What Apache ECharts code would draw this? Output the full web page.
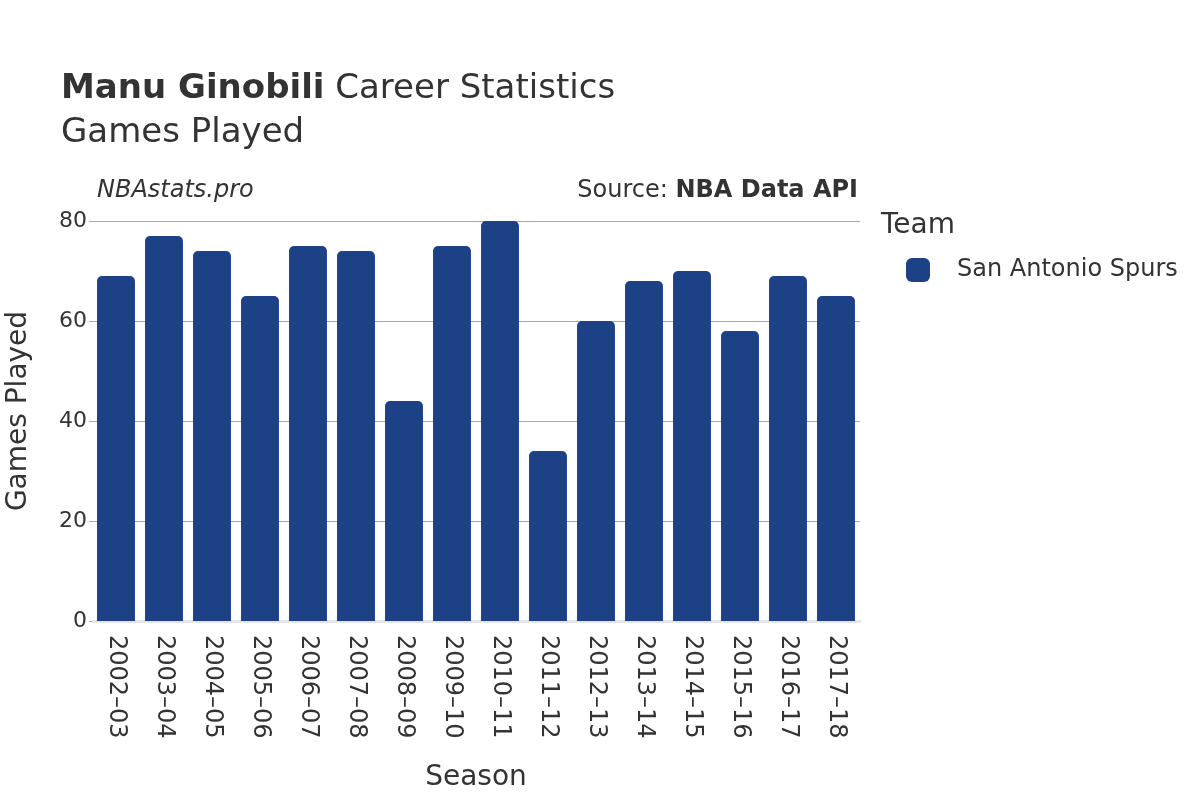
<!DOCTYPE html>
<html>
<head>
<meta charset="utf-8">
<script src="https://cdn.jsdelivr.net/npm/echarts@6/dist/echarts.min.js"></script>
<style>
  html, body { margin: 0; padding: 0; background: #fff; }
  #chart { width: 1200px; height: 800px; }
</style>
</head>
<body>
<div id="chart"></div>
<script>
// seasons on the x axis
const seasons = ['2002–03', '2003–04', '2004–05', '2005–06', '2006–07', '2007–08', '2008–09', '2009–10',
  '2010–11', '2011–12', '2012–13', '2013–14', '2014–15', '2015–16', '2016–17', '2017–18']
// games played per season
const gamesPlayed = [69, 77, 74, 65, 75, 74, 44, 75, 80, 34, 60, 68, 70, 58, 69, 65]
const teamName = 'San Antonio Spurs'
const yTicks = [0, 20, 40, 60, 80]

const font = 'DejaVu Sans'
const textColor = '#333'
const barColor = '#1c4187'

const chart = echarts.init(document.getElementById('chart'))

chart.setOption({
  animation: false,
  textStyle: { fontFamily: font },
  grid: { left: 92, right: 340, top: 221, bottom: 179, containLabel: false, outerBoundsMode: 'none' },
  graphic: [
    {
      type: 'text', left: 61, top: 72,
      style: {
        text: '{b|Manu Ginobili} Career Statistics',
        rich: { b: { fontWeight: 'bold', fontSize: 34, fontFamily: font, fill: textColor } },
        fontSize: 34, fontFamily: font, fill: textColor
      }
    },
    {
      type: 'text', left: 61, top: 116,
      style: { text: 'Games Played', fontSize: 34, fontFamily: font, fill: textColor }
    },
    {
      type: 'text', left: 97, top: 179,
      style: { text: 'NBAstats.pro', fontSize: 24, fontStyle: 'italic', fontFamily: font, fill: textColor }
    },
    {
      type: 'text', right: 342, top: 179,
      style: {
        text: 'Source: {b|NBA Data API}',
        rich: { b: { fontWeight: 'bold', fontSize: 24, fontFamily: font, fill: textColor } },
        fontSize: 24, fontFamily: font, fill: textColor
      }
    },
    {
      type: 'text', left: 881, top: 212,
      style: { text: 'Team', fontSize: 28, fontFamily: font, fill: textColor }
    }
  ],
  legend: {
    left: 901, top: 253,
    orient: 'vertical',
    itemWidth: 24, itemHeight: 24, itemGap: 10,
    icon: 'roundRect',
    textStyle: { fontSize: 24, color: textColor, fontFamily: font, padding: [0, 0, 0, 22] },
    data: [teamName]
  },
  xAxis: {
    type: 'category',
    data: seasons,
    name: 'Season',
    nameLocation: 'middle',
    nameGap: 143,
    nameTextStyle: { fontSize: 28, color: textColor, fontFamily: font },
    axisLine: { show: true, lineStyle: { color: '#e6e6e6', width: 3 } },
    axisTick: { show: false },
    axisLabel: { rotate: -90, fontSize: 24, color: textColor, fontFamily: font, margin: 14 }
  },
  yAxis: {
    type: 'value',
    min: 0, max: 80, interval: 20,
    name: 'Games Played',
    nameLocation: 'middle',
    nameGap: 59,
    nameTextStyle: { fontSize: 28, color: textColor, fontFamily: font, padding: [0, 0, 0, 20] },
    axisLine: { show: false },
    axisTick: { show: true, length: 3, lineStyle: { color: '#aaa' } },
    axisLabel: {
      fontSize: 22, color: textColor, fontFamily: font, margin: 5,
      formatter: v => yTicks.includes(v) ? String(v) : ''
    },
    splitLine: { lineStyle: { color: '#aaa', width: 1 } }
  },
  series: [
    {
      name: teamName,
      type: 'bar',
      data: gamesPlayed,
      barCategoryGap: '21%',
      itemStyle: { color: barColor, borderRadius: [5, 5, 0, 0] }
    }
  ]
})
</script>
</body>
</html>
